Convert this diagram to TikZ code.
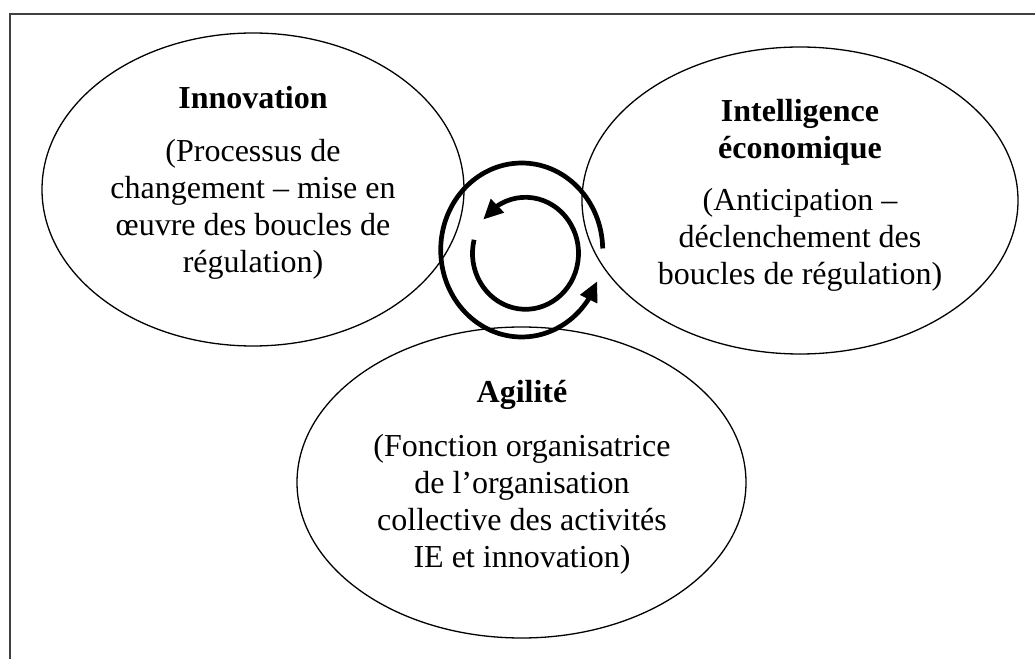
\documentclass[tikz,border=0pt]{standalone}
\usepackage{fontspec}
\setmainfont{Liberation Serif}
\usetikzlibrary{calc,shapes.geometric,arrows.meta,bending}
\tikzset{
	bubble/.style={
			draw, ellipse, line width=1.3pt, inner sep=0pt
		},
	bubbletext/.style={
			anchor=base, align=center, font=\fontsize{32}{37}\selectfont
		},
	cyclearrow/.style={
			line width=4.7pt, -{Triangle[length=20pt,width=18pt]}
		}
}

\begin{document}
\begin{tikzpicture}[x=1pt,y=1pt]

			\useasboundingbox (0,0) rectangle (1035,659);

			% Draw the frame
			\draw[line width=2pt, black!75] (10,0) -- (10,645) -- (1035,645);

			% Draw the three ellipses
			\node[bubble, minimum width=422pt, minimum height=313pt] (innovation) at (253,469.5) {};
			\node[bubble, minimum width=436pt, minimum height=307pt] (intelligence) at (800,458.5) {};
			\node[bubble, minimum width=449pt, minimum height=311pt] (agilite) at (521.5,176.5) {};

			% Draw the texts (base = last line)
			\node[bubbletext] (innovationtext) at (253,386) {\textbf{Innovation}\\[16pt]
				(Processus de\\changement -- mise en\\œuvre des boucles de\\régulation)};
			\node[bubbletext] (intelligencetext) at (800,374) {\textbf{Intelligence}\\\textbf{économique}\\[15pt]
				(Anticipation --\\déclenchement des\\boucles de régulation)};
			\node[bubbletext] (agilitetext) at (522,92) {\textbf{Agilité}\\[17pt]
				(Fonction organisatrice\\de l’organisation\\collective des activités\\IE et innovation)};

			% Draw the loop arrows
			\coordinate (outerloop) at (521.7,409);
			\coordinate (innerloop) at (525.5,405.7);
			\draw[cyclearrow] ($(outerloop)+(1:81 and 87)$) arc[start angle=1, end angle=339, x radius=81, y radius=87];
			\draw[cyclearrow] ($(innerloop)+(166:53 and 56)$) arc[start angle=166, end angle=503, x radius=53, y radius=56];

		\end{tikzpicture}
\end{document}
